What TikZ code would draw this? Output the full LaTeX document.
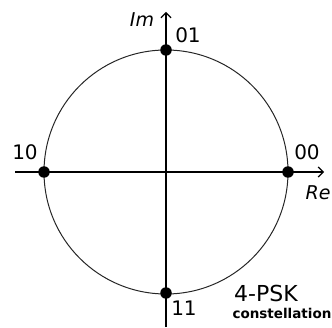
\documentclass[tikz,border=0pt]{standalone}
\usepackage{fontspec}
\setmainfont{DejaVu Sans}
\usetikzlibrary{arrows.meta}
\begin{document}
\begin{tikzpicture}[x=1pt, y=1pt,
    sym/.style={circle, fill=black, inner sep=0pt, minimum size=11.5pt},
    bits/.style={font=\fontsize{20}{20}\selectfont},
    axislbl/.style={font=\fontsize{19}{19}\selectfont\itshape},
    axis/.style={line width=1.2pt, -{Straight Barb[length=5pt, width=10pt]}}]
    \useasboundingbox (0,0) rectangle (332,327);
    % circle
    \coordinate (O) at (166,155);
    \draw[line width=1pt, black!85] (O) circle (122);
    % axes
    \coordinate (xl) at (15,155);
    \coordinate (xr) at (324,155);
    \coordinate (yb) at (166,0);
    \coordinate (yt) at (166,315);
    \draw[axis] (xl) -- (xr);
    \draw[axis] (yb) -- (yt);
    \node[axislbl] (im) at (142,307) {Im};
    \node[axislbl] (re) at (318,134) {Re};
    % symbols
    \node[sym] (s01) at (166,277) {};
    \node[sym] (s10) at (44,155) {};
    \node[sym] (s00) at (288,155) {};
    \node[sym] (s11) at (166,34) {};
    \node[bits] (l01) at (188,292) {01};
    \node[bits] (l10) at (25,175) {10};
    \node[bits] (l00) at (307,175) {00};
    \node[bits] (l11) at (184,19) {11};
    % caption
    \node[font=\fontsize{22}{22}\selectfont] (cap) at (266,34) {4-PSK};
    \node[font=\fontsize{13.5}{13.5}\selectfont\bfseries] (sub) at (282,14) {constellation};
\end{tikzpicture}
\end{document}
